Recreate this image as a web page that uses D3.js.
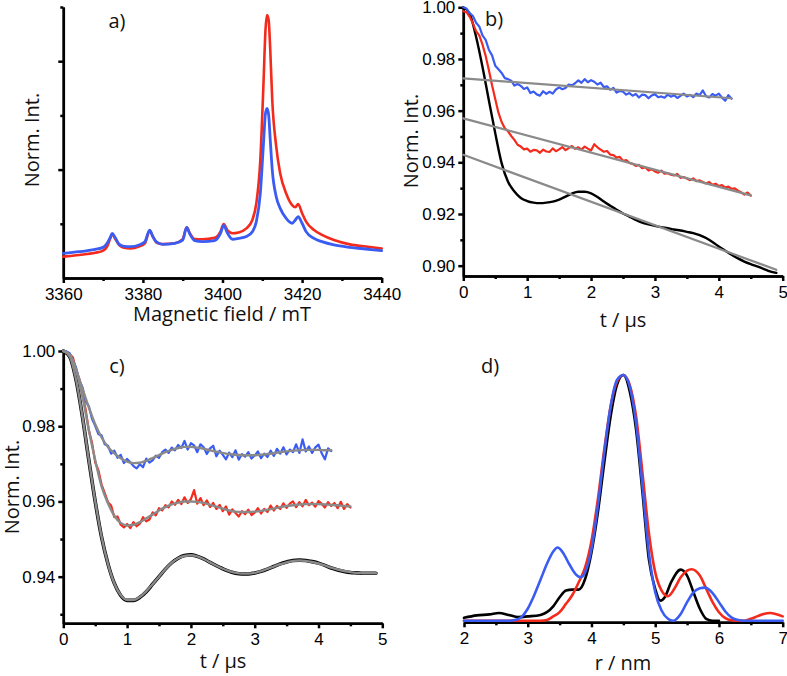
<!DOCTYPE html>
<html>
<head>
<meta charset="utf-8">
<script src="https://cdn.jsdelivr.net/npm/d3@7"></script>
<style>
  body { margin: 0; background: #fff; }
  svg { display: block; }
  .tick text { font-family: "Liberation Sans", Arial, sans-serif; font-size: 17px; fill: #000; }
  .axis path, .axis line { stroke: #000; stroke-width: 2.5; }
  .title { font-family: "Open Sans", sans-serif; font-size: 20px; fill: #111; }
  .trace { fill: none; stroke-linejoin: round; stroke-linecap: round; }
</style>
</head>
<body>
<svg id="chart" width="787" height="676"></svg>
<script>
// colours
const RED = "#f42a1c", BLUE = "#3b5cf2", GREY = "#8a8a8a";

// ---- panel a: field-swept spectra ----
const fieldA = [3360, 3364, 3368, 3370, 3371, 3371.8, 3372.3, 3373, 3374, 3375, 3377, 3379, 3380.5, 3381.7, 3382.5,
  3383.5, 3385, 3388, 3390, 3391, 3391.8, 3393, 3395, 3398, 3399.5, 3400.3, 3401.2, 3402.5, 3404, 3406, 3407.5,
  3408.5, 3409.5, 3410.3, 3410.8, 3411.2, 3411.6, 3412, 3412.5, 3413.5, 3414.5, 3416, 3417.5, 3418.3, 3419, 3420,
  3421, 3423, 3425, 3428, 3432, 3436, 3440];
const redA = [0.079, 0.085, 0.093, 0.101, 0.116, 0.146, 0.162, 0.146, 0.122, 0.113, 0.109, 0.116, 0.128, 0.175, 0.153,
  0.130, 0.125, 0.128, 0.143, 0.187, 0.165, 0.144, 0.143, 0.148, 0.171, 0.199, 0.177, 0.165, 0.168, 0.183, 0.214,
  0.276, 0.435, 0.718, 0.915, 0.970, 0.951, 0.841, 0.657, 0.485, 0.386, 0.312, 0.269, 0.261, 0.273, 0.239,
  0.208, 0.177, 0.159, 0.140, 0.124, 0.116, 0.109];
const blueA = [0.091, 0.097, 0.106, 0.113, 0.128, 0.150, 0.165, 0.150, 0.125, 0.118, 0.116, 0.122, 0.134, 0.177, 0.153,
  0.132, 0.124, 0.128, 0.140, 0.187, 0.162, 0.138, 0.134, 0.138, 0.165, 0.194, 0.167, 0.143, 0.146, 0.153, 0.171,
  0.208, 0.312, 0.497, 0.608, 0.626, 0.601, 0.510, 0.399, 0.300, 0.257, 0.220, 0.202, 0.214, 0.226, 0.202,
  0.171, 0.146, 0.134, 0.122, 0.113, 0.107, 0.101];

// ---- panel b: raw time traces (sampled every dt microseconds from t = 0) ----
const dtNoisy = 0.05, dtSmooth = 0.1;
const blueB = [1.0000, 0.9995, 0.9978, 0.9966, 0.9940, 0.9926, 0.9891, 0.9874, 0.9836, 0.9814, 0.9774, 0.9760, 0.9746,
  0.9726, 0.9722, 0.9716, 0.9697, 0.9703, 0.9696, 0.9684, 0.9690, 0.9668, 0.9674, 0.9663, 0.9658, 0.9675, 0.9665,
  0.9673, 0.9666, 0.9682, 0.9690, 0.9683, 0.9688, 0.9701, 0.9698, 0.9706, 0.9717, 0.9708, 0.9722, 0.9710, 0.9718,
  0.9712, 0.9701, 0.9708, 0.9691, 0.9694, 0.9681, 0.9688, 0.9670, 0.9676, 0.9673, 0.9662, 0.9668, 0.9658, 0.9664,
  0.9651, 0.9662, 0.9660, 0.9648, 0.9659, 0.9664, 0.9652, 0.9655, 0.9650, 0.9662, 0.9654, 0.9660, 0.9649, 0.9657,
  0.9666, 0.9655, 0.9661, 0.9652, 0.9666, 0.9660, 0.9678, 0.9656, 0.9651, 0.9664, 0.9658, 0.9666, 0.9650, 0.9638,
  0.9660, 0.9646];
const redB = [0.9985, 0.9981, 0.9963, 0.9938, 0.9908, 0.9891, 0.9856, 0.9812, 0.9757, 0.9698, 0.9645, 0.9592, 0.9556,
  0.9532, 0.9520, 0.9502, 0.9487, 0.9468, 0.9461, 0.9450, 0.9453, 0.9441, 0.9448, 0.9446, 0.9437, 0.9449, 0.9442,
  0.9440, 0.9454, 0.9443, 0.9450, 0.9459, 0.9447, 0.9455, 0.9463, 0.9452, 0.9458, 0.9449, 0.9461, 0.9453, 0.9446,
  0.9470, 0.9458, 0.9449, 0.9441, 0.9444, 0.9430, 0.9428, 0.9418, 0.9421, 0.9405, 0.9409, 0.9398, 0.9394, 0.9386,
  0.9390, 0.9377, 0.9381, 0.9368, 0.9373, 0.9365, 0.9360, 0.9368, 0.9356, 0.9358, 0.9352, 0.9349, 0.9355, 0.9340,
  0.9343, 0.9337, 0.9331, 0.9338, 0.9327, 0.9330, 0.9324, 0.9318, 0.9324, 0.9313, 0.9317, 0.9308, 0.9312, 0.9302,
  0.9306, 0.9297, 0.9299, 0.9290, 0.9284, 0.9275, 0.9283, 0.9271];
const blackB = [1.0000, 0.9975, 0.9886, 0.9770, 0.9640, 0.9513, 0.9397, 0.9325, 0.9287, 0.9262, 0.9250, 0.9244, 0.9242,
  0.9244, 0.9248, 0.9256, 0.9267, 0.9279, 0.9286, 0.9286, 0.9280, 0.9266, 0.9248, 0.9232, 0.9216, 0.9202, 0.9190,
  0.9177, 0.9167, 0.9160, 0.9154, 0.9149, 0.9145, 0.9140, 0.9136, 0.9131, 0.9126, 0.9118, 0.9107, 0.9092, 0.9074,
  0.9058, 0.9042, 0.9028, 0.9016, 0.9006, 0.8997, 0.8988, 0.8978, 0.8972];
// background fits: [t, value] at both ends
const bgBlueB = [[0, 0.9725], [4.2, 0.9648]];
const bgRedB = [[0, 0.9570], [4.5, 0.9272]];
const bgBlackB = [[0, 0.9429], [4.9, 0.8984]];

// ---- panel c: background-corrected traces and fits ----
const blueC = [1.0000, 0.9999, 0.9994, 0.9975, 0.9956, 0.9922, 0.9904, 0.9866, 0.9853, 0.9820, 0.9801, 0.9779, 0.9776,
  0.9752, 0.9748, 0.9727, 0.9735, 0.9716, 0.9724, 0.9702, 0.9713, 0.9704, 0.9694, 0.9688, 0.9699, 0.9691, 0.9714,
  0.9703, 0.9709, 0.9722, 0.9716, 0.9731, 0.9738, 0.9729, 0.9743, 0.9736, 0.9750, 0.9742, 0.9761, 0.9738, 0.9755,
  0.9749, 0.9731, 0.9752, 0.9744, 0.9726, 0.9741, 0.9748, 0.9720, 0.9735, 0.9724, 0.9712, 0.9730, 0.9718, 0.9736,
  0.9711, 0.9726, 0.9719, 0.9731, 0.9714, 0.9722, 0.9733, 0.9715, 0.9727, 0.9718, 0.9735, 0.9721, 0.9740, 0.9727,
  0.9744, 0.9725, 0.9738, 0.9731, 0.9752, 0.9729, 0.9765, 0.9733, 0.9746, 0.9729, 0.9744, 0.9751, 0.9728, 0.9712,
  0.9741, 0.9734];
const redC = [1.0000, 0.9998, 0.9991, 0.9983, 0.9950, 0.9926, 0.9882, 0.9845, 0.9789, 0.9756, 0.9704, 0.9683, 0.9645,
  0.9622, 0.9598, 0.9589, 0.9558, 0.9560, 0.9538, 0.9531, 0.9540, 0.9529, 0.9545, 0.9534, 0.9541, 0.9558, 0.9547,
  0.9552, 0.9571, 0.9563, 0.9582, 0.9576, 0.9590, 0.9584, 0.9600, 0.9591, 0.9604, 0.9593, 0.9611, 0.9596, 0.9606,
  0.9630, 0.9594, 0.9609, 0.9590, 0.9603, 0.9585, 0.9596, 0.9580, 0.9591, 0.9574, 0.9587, 0.9565, 0.9579, 0.9569,
  0.9560, 0.9574, 0.9566, 0.9578, 0.9564, 0.9570, 0.9582, 0.9568, 0.9580, 0.9572, 0.9589, 0.9576, 0.9588, 0.9580,
  0.9595, 0.9583, 0.9594, 0.9600, 0.9585, 0.9598, 0.9587, 0.9604, 0.9590, 0.9597, 0.9586, 0.9601, 0.9594, 0.9584,
  0.9598, 0.9588, 0.9596, 0.9582, 0.9599, 0.9580, 0.9593, 0.9584];
const blackC = [1.0000, 0.9985, 0.9923, 0.9825, 0.9710, 0.9600, 0.9505, 0.9434, 0.9382, 0.9350, 0.9337, 0.9337, 0.9345,
  0.9360, 0.9380, 0.9400, 0.9420, 0.9437, 0.9449, 0.9456, 0.9458, 0.9454, 0.9447, 0.9438, 0.9429, 0.9421, 0.9414,
  0.9409, 0.9407, 0.9407, 0.9410, 0.9414, 0.9420, 0.9427, 0.9434, 0.9439, 0.9443, 0.9444, 0.9443, 0.9440, 0.9436,
  0.9430, 0.9423, 0.9418, 0.9414, 0.9411, 0.9410, 0.9409, 0.9409, 0.9409];
const fitBlueC = [1.0000, 0.9990, 0.9950, 0.9900, 0.9850, 0.9805, 0.9770, 0.9745, 0.9728, 0.9715, 0.9706, 0.9702, 0.9703,
  0.9708, 0.9715, 0.9723, 0.9731, 0.9737, 0.9742, 0.9745, 0.9745, 0.9743, 0.9740, 0.9736, 0.9732, 0.9729, 0.9726,
  0.9724, 0.9723, 0.9723, 0.9723, 0.9724, 0.9726, 0.9728, 0.9731, 0.9733, 0.9735, 0.9736, 0.9737, 0.9737, 0.9737,
  0.9736, 0.9736];
const fitRedC = [1.0000, 0.9990, 0.9950, 0.9880, 0.9790, 0.9710, 0.9640, 0.9595, 0.9562, 0.9543, 0.9536, 0.9538, 0.9545,
  0.9555, 0.9565, 0.9576, 0.9585, 0.9592, 0.9597, 0.9600, 0.9600, 0.9599, 0.9596, 0.9591, 0.9586, 0.9581, 0.9576,
  0.9573, 0.9572, 0.9572, 0.9573, 0.9575, 0.9578, 0.9581, 0.9585, 0.9588, 0.9590, 0.9592, 0.9593, 0.9593, 0.9593,
  0.9592, 0.9591, 0.9590, 0.9588, 0.9587];
const fitBlackC = [1.0000, 0.9986, 0.9924, 0.9826, 0.9711, 0.9601, 0.9506, 0.9434, 0.9382, 0.9351, 0.9338, 0.9338, 0.9346,
  0.9361, 0.9380, 0.9400, 0.9420, 0.9437, 0.9449, 0.9455, 0.9457, 0.9454, 0.9447, 0.9438, 0.9429, 0.9421, 0.9415,
  0.9410, 0.9408, 0.9408, 0.9410, 0.9415, 0.9421, 0.9427, 0.9433, 0.9438, 0.9442, 0.9443, 0.9442, 0.9439, 0.9435,
  0.9430, 0.9424, 0.9419, 0.9415, 0.9412, 0.9410, 0.9409, 0.9409, 0.9409];

// ---- panel d: distance distributions ----
const rBlack = [2.0, 2.2, 2.4, 2.55, 2.7, 2.85, 3.0, 3.2, 3.3, 3.4, 3.5, 3.6, 3.7, 3.8, 3.9, 4.0, 4.1, 4.2, 4.3, 4.4, 4.5,
  4.6, 4.7, 4.8, 4.9, 5.0, 5.08, 5.15, 5.25, 5.4, 5.5, 5.6, 5.7, 5.8, 5.9, 6.0];
const pBlack = [0.012, 0.022, 0.026, 0.032, 0.024, 0.015, 0.018, 0.024, 0.035, 0.059, 0.096, 0.123, 0.127, 0.127, 0.170,
  0.278, 0.440, 0.642, 0.831, 0.960, 1.000, 0.933, 0.777, 0.521, 0.251, 0.130, 0.082, 0.096, 0.157, 0.208, 0.184,
  0.116, 0.049, 0.008, 0.0, 0.0];
const rRed = [2.0, 3.2, 3.3, 3.4, 3.5, 3.6, 3.7, 3.8, 3.9, 4.0, 4.1, 4.2, 4.3, 4.4, 4.5, 4.6, 4.7, 4.8, 4.9, 5.0, 5.1,
  5.2, 5.3, 5.4, 5.5, 5.57, 5.7, 5.8, 5.9, 6.0, 6.1, 6.2, 6.3, 6.4, 6.5, 6.6, 6.7, 6.8, 6.9, 7.0];
const pRed = [0.0, 0.0, 0.003, 0.018, 0.035, 0.069, 0.105, 0.157, 0.217, 0.325, 0.494, 0.696, 0.872, 0.973, 1.000, 0.960,
  0.831, 0.602, 0.359, 0.197, 0.123, 0.100, 0.130, 0.177, 0.204, 0.210, 0.184, 0.130, 0.076, 0.035, 0.011, 0.002,
  0.0, 0.0, 0.008, 0.018, 0.028, 0.032, 0.027, 0.018];
const rBlue = [2.0, 2.7, 2.8, 2.9, 3.0, 3.1, 3.2, 3.3, 3.4, 3.47, 3.55, 3.65, 3.75, 3.83, 3.9, 4.0, 4.1, 4.2, 4.3, 4.4,
  4.5, 4.6, 4.7, 4.8, 4.9, 5.0, 5.1, 5.2, 5.28, 5.4, 5.5, 5.6, 5.7, 5.78, 5.9, 6.0, 6.1, 6.2, 6.3, 6.4, 7.0];
const pBlue = [0.0, 0.0, 0.003, 0.015, 0.049, 0.103, 0.167, 0.231, 0.282, 0.298, 0.278, 0.231, 0.190, 0.177, 0.197, 0.291,
  0.467, 0.683, 0.872, 0.980, 1.000, 0.953, 0.804, 0.548, 0.278, 0.116, 0.042, 0.008, 0.0, 0.028, 0.076, 0.116,
  0.132, 0.135, 0.113, 0.076, 0.038, 0.013, 0.003, 0.0, 0.0];

// helpers
const sampled = (dt, vals) => vals.map((v, i) => [i * dt, v]);
const zip = (xs, ys) => xs.map((x, i) => [x, ys[i]]);

const svg = d3.select("#chart");

function panel(o) {
  const g = svg.append("g");
  const x = d3.scaleLinear().domain(o.xDomain).range(o.xRange);
  const y = d3.scaleLinear().domain(o.yDomain).range(o.yRange);
  const yBase = o.xAxisY !== undefined ? o.xAxisY : o.yRange[0];
  // minor ticks first, then major axis on top
  g.append("g").attr("class", "axis").attr("transform", "translate(0," + yBase + ")")
    .call(d3.axisBottom(x).tickValues(o.xMinor).tickSize(3).tickSizeOuter(0).tickFormat(""));
  g.append("g").attr("class", "axis").attr("transform", "translate(0," + yBase + ")")
    .call(d3.axisBottom(x).tickValues(o.xMajor).tickSize(5).tickSizeOuter(0)
      .tickPadding(o.xPad).tickFormat(o.xFmt));
  if (o.yAxis) {
    g.append("g").attr("class", "axis").attr("transform", "translate(" + o.xRange[0] + ",0)")
      .call(d3.axisLeft(y).tickValues(o.yMinor).tickSize(3).tickSizeOuter(0).tickFormat(""));
    g.append("g").attr("class", "axis").attr("transform", "translate(" + o.xRange[0] + ",0)")
      .call(d3.axisLeft(y).tickValues(o.yMajor).tickSize(5).tickSizeOuter(0)
        .tickPadding(3).tickFormat(o.yFmt || ""));
  }
  return { g, x, y };
}

function trace(p, data, color, width, curve) {
  const line = d3.line().x(d => p.x(d[0])).y(d => p.y(d[1])).curve(curve || d3.curveLinear);
  p.g.append("path").datum(data).attr("class", "trace")
    .attr("stroke", color).attr("stroke-width", width).attr("d", line);
}

function label(txt, x, y, rotate) {
  const t = svg.append("text").attr("class", "title").attr("text-anchor", "middle").text(txt);
  if (rotate) t.attr("transform", "translate(" + x + "," + y + ") rotate(-90)");
  else t.attr("x", x).attr("y", y);
  return t;
}

// panel a
const pa = panel({
  xDomain: [3360, 3440], xRange: [63.3, 381.7], yDomain: [0, 1], yRange: [278, 7],
  xMajor: [3360, 3380, 3400, 3420, 3440], xMinor: [3370, 3390, 3410, 3430], xPad: 5, xFmt: d3.format("d"),
  yAxis: true, yMajor: [0.4, 0.8], yMinor: [0.2, 0.6, 1.0]
});
trace(pa, zip(fieldA, redA), RED, 2.6, d3.curveMonotoneX);
trace(pa, zip(fieldA, blueA), BLUE, 2.8, d3.curveMonotoneX);

// panel b
const f2 = d3.format(".2f");
const pb = panel({
  xDomain: [0, 5], xRange: [463.3, 782.7], yDomain: [0.896, 1.0], yRange: [276, 7.3],
  xMajor: [0, 1, 2, 3, 4, 5], xMinor: [0.5, 1.5, 2.5, 3.5, 4.5], xPad: 5, xFmt: d3.format("d"),
  yAxis: true, yMajor: [0.90, 0.92, 0.94, 0.96, 0.98, 1.00], yMinor: [0.91, 0.93, 0.95, 0.97, 0.99], yFmt: f2
});
trace(pb, sampled(dtSmooth, blackB), "#000", 2.4, d3.curveMonotoneX);
trace(pb, sampled(dtNoisy, redB), RED, 2.2);
trace(pb, sampled(dtNoisy, blueB), BLUE, 2.2);
trace(pb, bgBlueB, GREY, 2.2);
trace(pb, bgRedB, GREY, 2.2);
trace(pb, bgBlackB, GREY, 2.2);

// panel c
const pc = panel({
  xDomain: [0, 5], xRange: [63.3, 382.3], yDomain: [0.9276, 1.0], yRange: [623.3, 351],
  xMajor: [0, 1, 2, 3, 4, 5], xMinor: [0.5, 1.5, 2.5, 3.5, 4.5], xPad: 5, xFmt: d3.format("d"),
  yAxis: true, yMajor: [0.94, 0.96, 0.98, 1.00], yMinor: [0.93, 0.95, 0.97, 0.99], yFmt: f2
});
trace(pc, sampled(dtSmooth, blackC), "#000", 3.6, d3.curveMonotoneX);
trace(pc, sampled(dtNoisy, redC), RED, 2.2);
trace(pc, sampled(dtNoisy, blueC), BLUE, 2.2);
trace(pc, sampled(dtSmooth, fitBlackC), GREY, 2.4, d3.curveMonotoneX);
trace(pc, sampled(dtSmooth, fitRedC), GREY, 2.4, d3.curveMonotoneX);
trace(pc, sampled(dtSmooth, fitBlueC), GREY, 2.4, d3.curveMonotoneX);

// panel d
const pd = panel({
  xDomain: [2, 7], xRange: [464, 782.7], yDomain: [0, 1], yRange: [620.8, 375], xAxisY: 622.3,
  xMajor: [2, 3, 4, 5, 6, 7], xMinor: [2.5, 3.5, 4.5, 5.5, 6.5], xPad: 5, xFmt: d3.format("d"),
  yAxis: false
});
trace(pd, zip(rBlack, pBlack), "#000", 2.6, d3.curveMonotoneX);
trace(pd, zip(rRed, pRed), RED, 2.6, d3.curveMonotoneX);
trace(pd, zip(rBlue, pBlue), BLUE, 2.6, d3.curveMonotoneX);

// axis titles and panel letters
label("Magnetic field / mT", 222, 321);
label("Norm. Int.", 39, 140, true);
label("t / μs", 623, 327);
label("Norm. Int.", 418, 141, true);
label("t / μs", 223, 668);
label("Norm. Int.", 19, 487, true);
label("r / nm", 623, 670);
label("a)", 117, 28);
label("b)", 494, 26);
label("c)", 117, 373);
label("d)", 490, 373);
</script>
</body>
</html>
